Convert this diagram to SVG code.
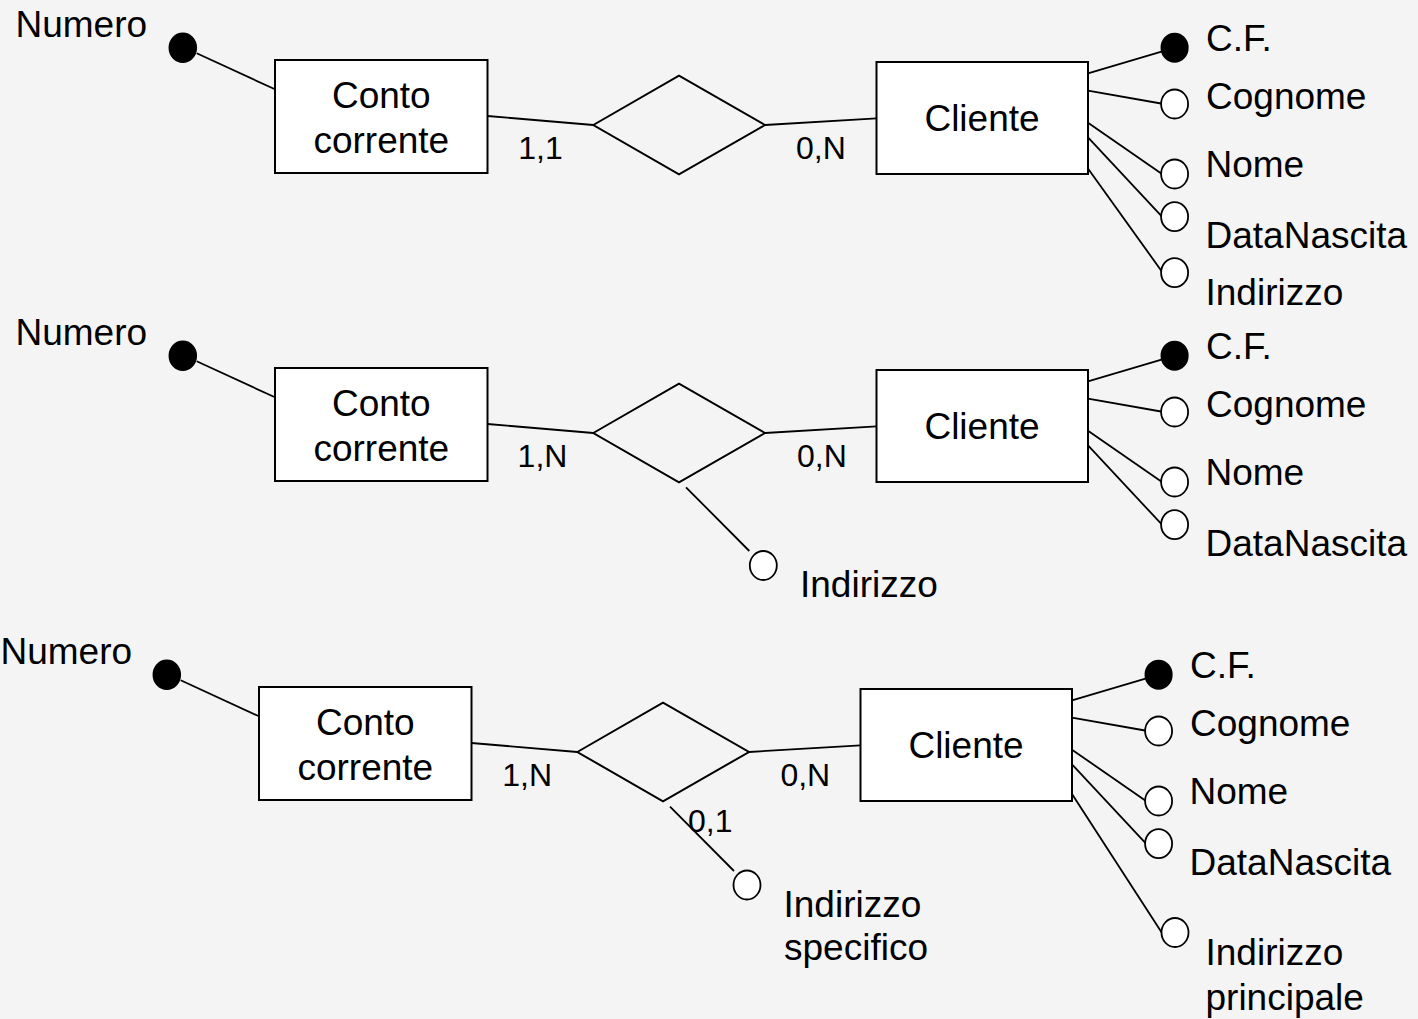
<svg xmlns="http://www.w3.org/2000/svg" width="1418" height="1019" viewBox="0 0 1418 1019">
<style>
text{font-family:"Liberation Sans",Arial,sans-serif;fill:#000}
.t{font-size:37px}
.c{font-size:32px}
.m{text-anchor:middle}
.box{fill:#fff;stroke:#000;stroke-width:2}
.rel{fill:none;stroke:#000;stroke-width:2}
.key{fill:#000;stroke:#000;stroke-width:1.5}
.att{fill:#fff;stroke:#000;stroke-width:1.8}
.ln{stroke:#000;stroke-width:1.8;fill:none}
</style>
<rect width="1418" height="1019" fill="#f4f4f4"/>
<g id="connectors">
<line class="ln" x1="196.7" y1="53.3" x2="275" y2="89.3"/>
<line class="ln" x1="487.5" y1="116" x2="593.3" y2="125"/>
<line class="ln" x1="765" y1="125" x2="876.5" y2="118.3"/>
<line class="ln" x1="1088" y1="73.3" x2="1161.5" y2="51.7"/>
<line class="ln" x1="1088" y1="90.7" x2="1161" y2="103.5"/>
<line class="ln" x1="1088" y1="122.7" x2="1162" y2="174"/>
<line class="ln" x1="1088" y1="137.3" x2="1162" y2="216.7"/>
<line class="ln" x1="1082.4" y1="160.7" x2="1162" y2="271.7"/>

<line class="ln" x1="196.7" y1="361.3" x2="275" y2="397.3"/>
<line class="ln" x1="487.5" y1="424" x2="593.3" y2="433"/>
<line class="ln" x1="765" y1="433" x2="876.5" y2="426.3"/>
<line class="ln" x1="1088" y1="381.3" x2="1161.5" y2="359.7"/>
<line class="ln" x1="1088" y1="398.7" x2="1161" y2="411.5"/>
<line class="ln" x1="1088" y1="430.7" x2="1162" y2="482"/>
<line class="ln" x1="1088" y1="445.3" x2="1162" y2="524.7"/>
<line class="ln" x1="686" y1="487.3" x2="749.3" y2="551"/>

<line class="ln" x1="180.7" y1="680.3" x2="259" y2="716.3"/>
<line class="ln" x1="471.5" y1="743" x2="577.3" y2="752"/>
<line class="ln" x1="749" y1="752" x2="860.5" y2="745.3"/>
<line class="ln" x1="1072" y1="700.3" x2="1145.5" y2="678.7"/>
<line class="ln" x1="1072" y1="717.7" x2="1145" y2="730.5"/>
<line class="ln" x1="1072" y1="749.7" x2="1146" y2="801"/>
<line class="ln" x1="1072" y1="764.3" x2="1146" y2="843.7"/>
<line class="ln" x1="1072" y1="794" x2="1162" y2="933"/>
<line class="ln" x1="670" y1="806.7" x2="734" y2="871"/>
</g>

<!-- Diagram 1 -->
<g id="d1-numero"><ellipse class="key" cx="182.8" cy="47.7" rx="13.5" ry="14.5"/><text class="t" x="15.5" y="37.3">Numero</text></g>
<g id="d1-conto"><rect class="box" x="275" y="60" width="212.5" height="113"/><text class="t m" x="381.3" y="108.3">Conto</text><text class="t m" x="381.3" y="152.7">corrente</text></g>
<g id="d1-rel"><polygon class="rel" points="593.3,125 679,75.7 765,125 679,174.3"/></g>
<g id="d1-card"><text class="c" x="518.3" y="159">1,1</text><text class="c" x="796" y="159">0,N</text></g>
<g id="d1-cliente"><rect class="box" x="876.5" y="62" width="211.5" height="112"/><text class="t m" x="982" y="131">Cliente</text></g>
<g id="d1-cf"><ellipse class="key" cx="1174.6" cy="47.7" rx="13.3" ry="14.3"/><text class="t" x="1206" y="50.7">C.F.</text></g>
<g id="d1-cognome"><ellipse class="att" cx="1174.6" cy="104" rx="13.5" ry="14.5"/><text class="t" x="1206" y="109.3">Cognome</text></g>
<g id="d1-nome"><ellipse class="att" cx="1174.6" cy="174" rx="13.5" ry="14.5"/><text class="t" x="1205.5" y="177.3">Nome</text></g>
<g id="d1-datanascita"><ellipse class="att" cx="1174.6" cy="216.7" rx="13.5" ry="14.5"/><text class="t" x="1205.5" y="248.3">DataNascita</text></g>
<g id="d1-indirizzo"><ellipse class="att" cx="1174.6" cy="272.7" rx="13.5" ry="14.5"/><text class="t" x="1205.5" y="305">Indirizzo</text></g>

<!-- Diagram 2 -->
<g id="d2-numero"><ellipse class="key" cx="182.8" cy="355.7" rx="13.5" ry="14.5"/><text class="t" x="15.5" y="345.3">Numero</text></g>
<g id="d2-conto"><rect class="box" x="275" y="368" width="212.5" height="113"/><text class="t m" x="381.3" y="416.3">Conto</text><text class="t m" x="381.3" y="460.7">corrente</text></g>
<g id="d2-rel"><polygon class="rel" points="593.3,433 679,383.7 765,433 679,482.3"/></g>
<g id="d2-card"><text class="c" x="517.6" y="467">1,N</text><text class="c" x="797" y="467">0,N</text></g>
<g id="d2-cliente"><rect class="box" x="876.5" y="370" width="211.5" height="112"/><text class="t m" x="982" y="439">Cliente</text></g>
<g id="d2-cf"><ellipse class="key" cx="1174.6" cy="355.7" rx="13.3" ry="14.3"/><text class="t" x="1206" y="358.7">C.F.</text></g>
<g id="d2-cognome"><ellipse class="att" cx="1174.6" cy="412" rx="13.5" ry="14.5"/><text class="t" x="1206" y="417.3">Cognome</text></g>
<g id="d2-nome"><ellipse class="att" cx="1174.6" cy="482" rx="13.5" ry="14.5"/><text class="t" x="1205.5" y="485.3">Nome</text></g>
<g id="d2-datanascita"><ellipse class="att" cx="1174.6" cy="524.7" rx="13.5" ry="14.5"/><text class="t" x="1205.5" y="556.3">DataNascita</text></g>
<g id="d2-indirizzo"><ellipse class="att" cx="763.3" cy="565.5" rx="13.5" ry="14.5"/><text class="t" x="800" y="596.7">Indirizzo</text></g>

<!-- Diagram 3 -->
<g id="d3-numero"><ellipse class="key" cx="166.8" cy="674.7" rx="13.5" ry="14.5"/><text class="t" x="0.5" y="664.3">Numero</text></g>
<g id="d3-conto"><rect class="box" x="259" y="687" width="212.5" height="113"/><text class="t m" x="365.3" y="735.3">Conto</text><text class="t m" x="365.3" y="779.7">corrente</text></g>
<g id="d3-rel"><polygon class="rel" points="577.3,752 663,702.7 749,752 663,801.3"/></g>
<g id="d3-card"><text class="c" x="502.3" y="786">1,N</text><text class="c" x="780.4" y="786">0,N</text><text class="c" x="688" y="831.7">0,1</text></g>
<g id="d3-cliente"><rect class="box" x="860.5" y="689" width="211.5" height="112"/><text class="t m" x="966" y="758">Cliente</text></g>
<g id="d3-cf"><ellipse class="key" cx="1158.6" cy="674.7" rx="13.3" ry="14.3"/><text class="t" x="1190" y="677.7">C.F.</text></g>
<g id="d3-cognome"><ellipse class="att" cx="1158.6" cy="731" rx="13.5" ry="14.5"/><text class="t" x="1190" y="736.3">Cognome</text></g>
<g id="d3-nome"><ellipse class="att" cx="1158.6" cy="801" rx="13.5" ry="14.5"/><text class="t" x="1189.5" y="804.3">Nome</text></g>
<g id="d3-datanascita"><ellipse class="att" cx="1158.6" cy="843.7" rx="13.5" ry="14.5"/><text class="t" x="1189.5" y="875.3">DataNascita</text></g>
<g id="d3-indirizzo-principale"><ellipse class="att" cx="1175" cy="932.5" rx="13.5" ry="14.5"/><text class="t" x="1205.5" y="965">Indirizzo</text><text class="t" x="1205.5" y="1010">principale</text></g>
<g id="d3-indirizzo-specifico"><ellipse class="att" cx="747" cy="885" rx="13.5" ry="14.5"/><text class="t" x="783.5" y="916.7">Indirizzo</text><text class="t" x="784" y="960">specifico</text></g>
</svg>
